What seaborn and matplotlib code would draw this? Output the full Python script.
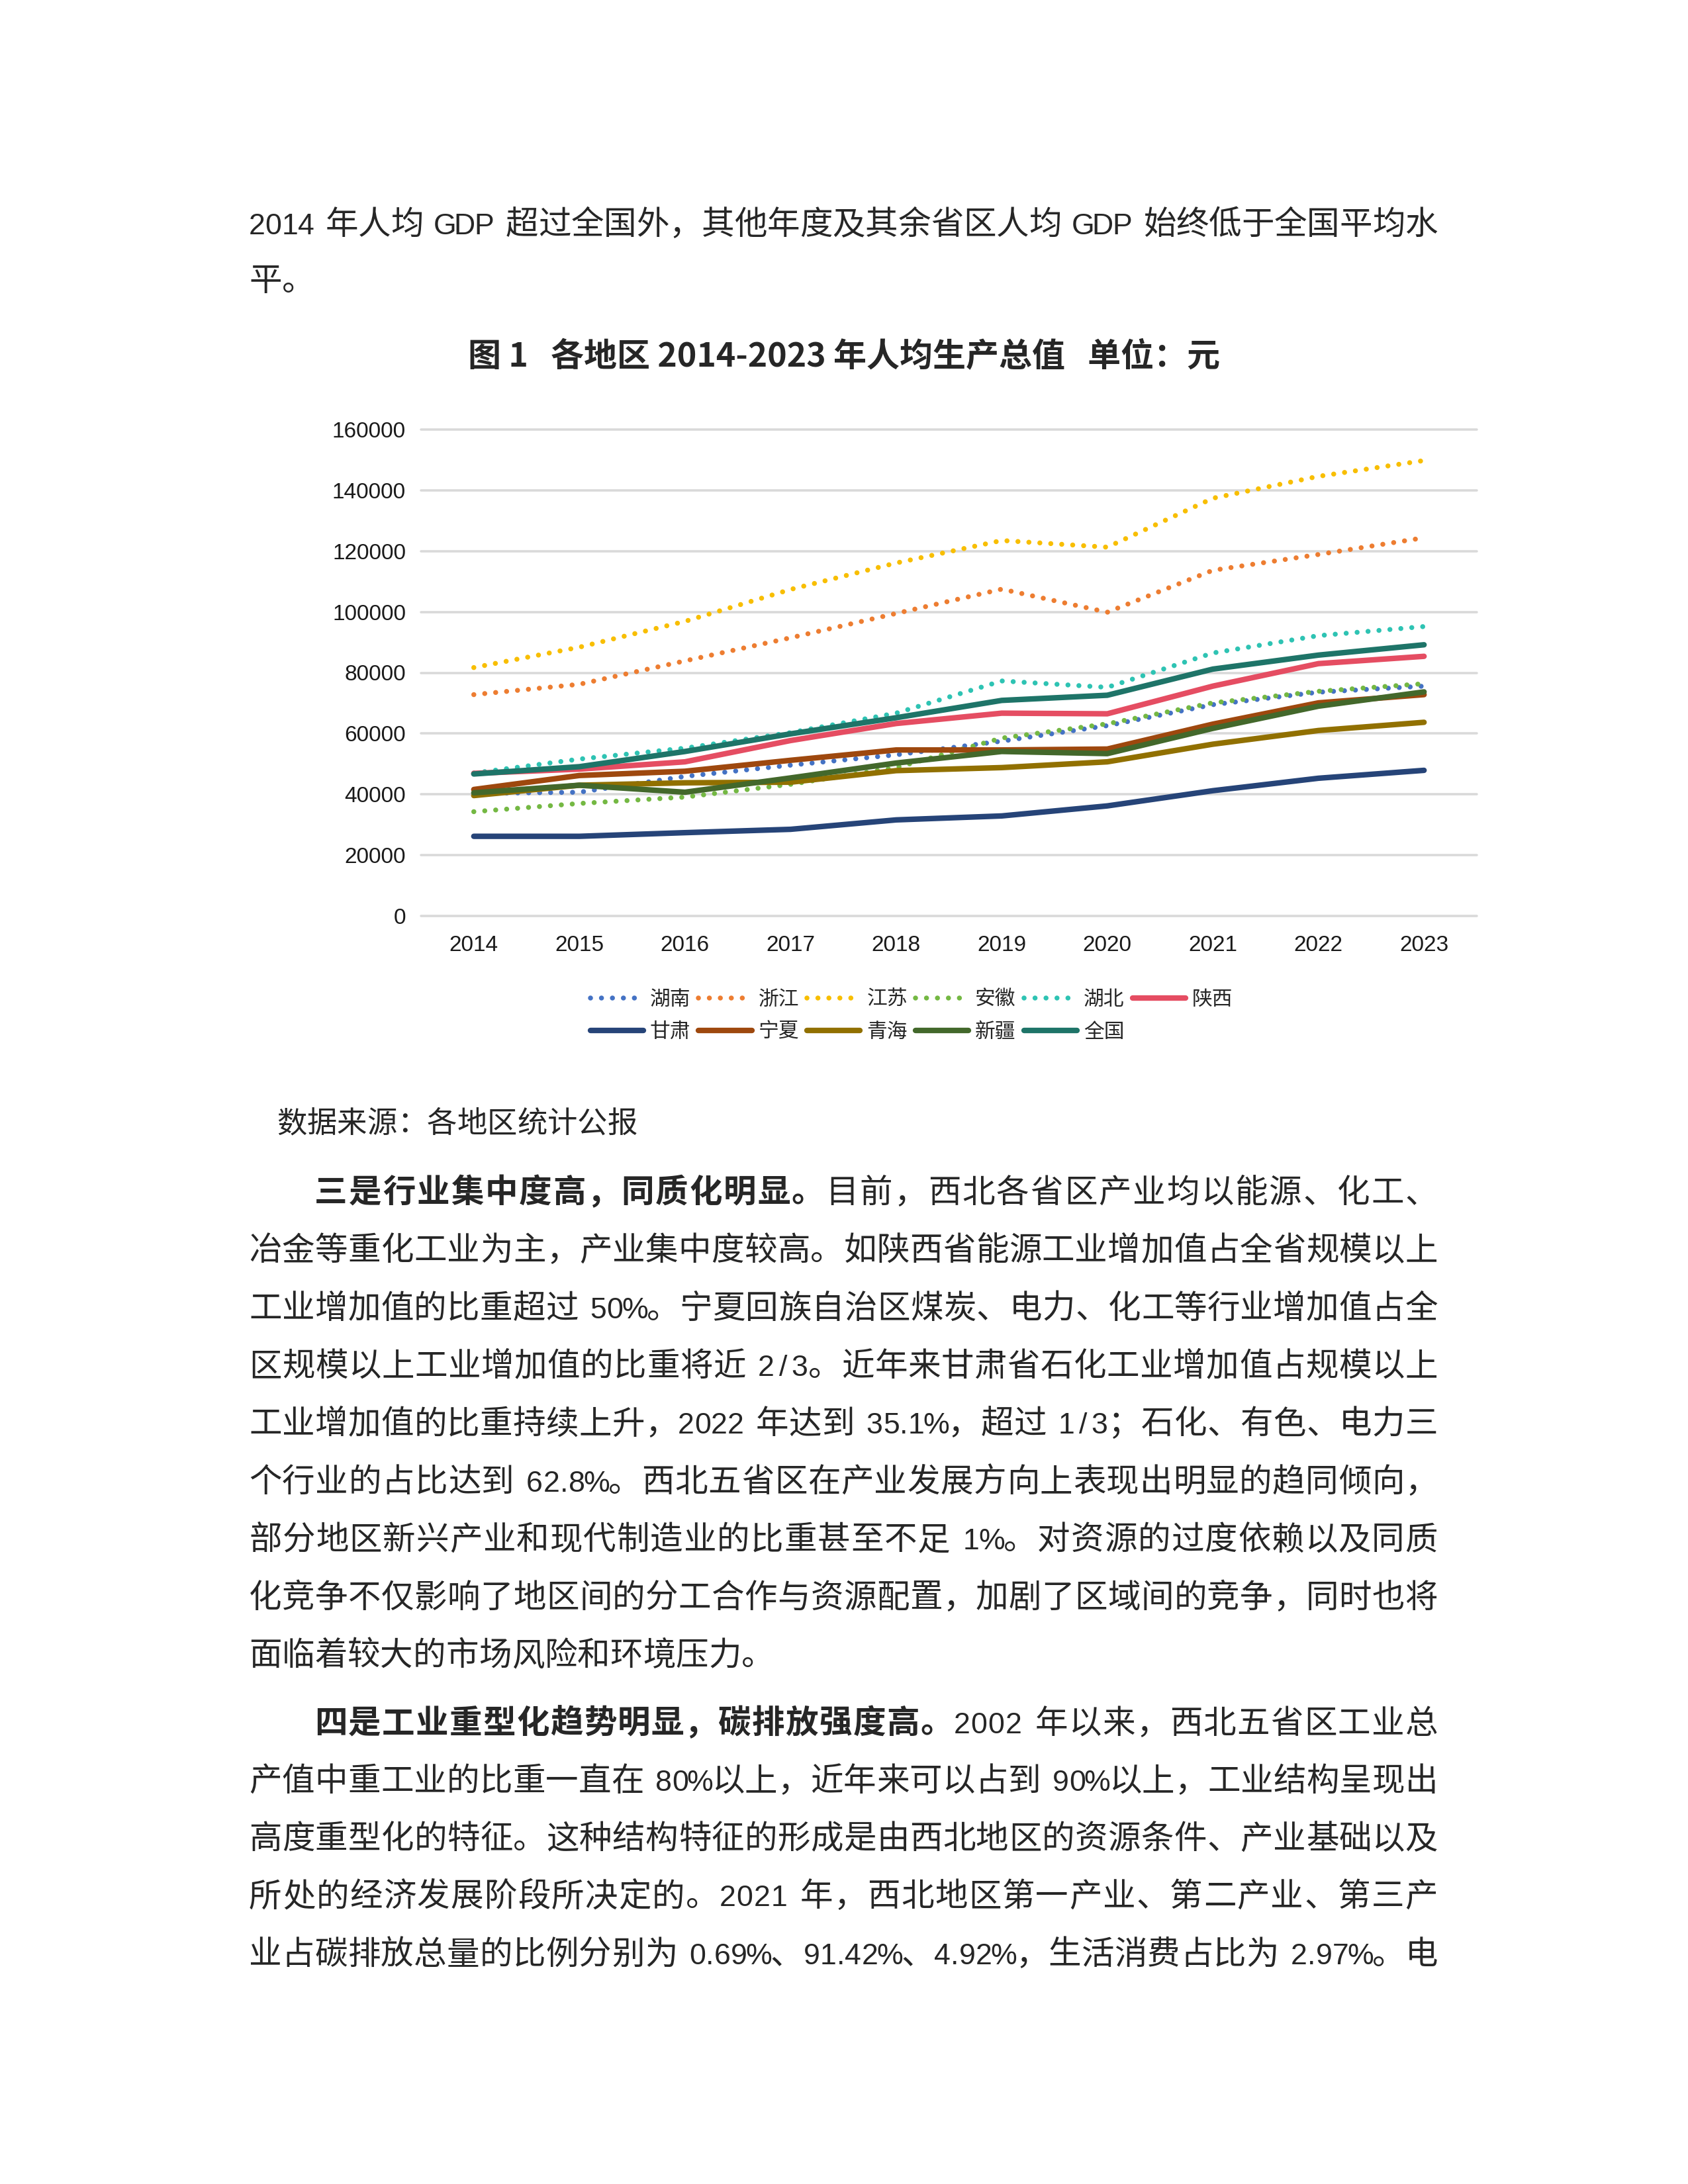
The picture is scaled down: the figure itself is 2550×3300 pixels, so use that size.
import matplotlib
matplotlib.use('Agg')
import matplotlib.pyplot as plt
import seaborn as sns
from matplotlib.font_manager import FontProperties

# data (元 per person)
years = ['2014', '2015', '2016', '2017', '2018', '2019', '2020', '2021', '2022', '2023']
hunan = [40300, 40700, 45900, 49600, 53000, 57500, 62600, 69500, 73600, 75600]
zhejiang = [72800, 76200, 83900, 91500, 99500, 107500, 99900, 113700, 118900, 124400]
jiangsu = [81700, 88400, 96900, 107400, 116100, 123500, 121300, 137400, 144600, 149800]
anhui = [34300, 37000, 39100, 43300, 48800, 58500, 63200, 70100, 73900, 76400]
hubei = [47000, 51600, 55200, 60300, 66700, 77300, 75200, 86500, 92200, 95200]
shaanxi = [46900, 48300, 50700, 57700, 63300, 66700, 66500, 75600, 83000, 85400]
gansu = [26200, 26200, 27400, 28500, 31600, 32900, 36200, 41200, 45300, 47900]
ningxia = [41600, 46200, 47600, 51200, 54600, 54600, 54900, 63100, 70100, 72800]
qinghai = [39600, 43000, 43800, 44000, 47800, 48800, 50700, 56500, 61000, 63700]
xinjiang = [40500, 43000, 40700, 45400, 50300, 54100, 53400, 61700, 69000, 73700]
national = [46700, 49100, 54100, 59900, 65200, 70900, 72600, 81200, 85800, 89200]

names = ['湖南', '浙江', '江苏', '安徽', '湖北', '陕西', '甘肃', '宁夏', '青海', '新疆', '全国']
series = [hunan, zhejiang, jiangsu, anhui, hubei, shaanxi, gansu, ningxia, qinghai, xinjiang, national]
colors = ['#4472C4', '#ED7D31', '#F8BE00', '#74B843', '#2EC3B3', '#E54D62',
          '#264478', '#9E480E', '#917000', '#43682B', '#1E7468']
dotted = [True, True, True, True, True, False, False, False, False, False, False]

# page text
intro_lines = ['2014 年人均 GDP 超过全国外，其他年度及其余省区人均 GDP 始终低于全国平均水',
               '平。']
title = '图 1   各地区 2014-2023 年人均生产总值   单位：元'
source = '数据来源：各地区统计公报'
para3 = ['三是行业集中度高，同质化明显。目前，西北各省区产业均以能源、化工、',
         '冶金等重化工业为主，产业集中度较高。如陕西省能源工业增加值占全省规模以上',
         '工业增加值的比重超过 50%。宁夏回族自治区煤炭、电力、化工等行业增加值占全',
         '区规模以上工业增加值的比重将近 2/3。近年来甘肃省石化工业增加值占规模以上',
         '工业增加值的比重持续上升，2022 年达到 35.1%，超过 1/3；石化、有色、电力三',
         '个行业的占比达到 62.8%。西北五省区在产业发展方向上表现出明显的趋同倾向，',
         '部分地区新兴产业和现代制造业的比重甚至不足 1%。对资源的过度依赖以及同质',
         '化竞争不仅影响了地区间的分工合作与资源配置，加剧了区域间的竞争，同时也将',
         '面临着较大的市场风险和环境压力。']
para3_bold = len('三是行业集中度高，同质化明显。')
para4 = ['四是工业重型化趋势明显，碳排放强度高。2002 年以来，西北五省区工业总',
         '产值中重工业的比重一直在 80%以上，近年来可以占到 90%以上，工业结构呈现出',
         '高度重型化的特征。这种结构特征的形成是由西北地区的资源条件、产业基础以及',
         '所处的经济发展阶段所决定的。2021 年，西北地区第一产业、第二产业、第三产',
         '业占碳排放总量的比例分别为 0.69%、91.42%、4.92%，生活消费占比为 2.97%。电']
para4_bold = len('四是工业重型化趋势明显，碳排放强度高。')

sns.set_style('white')
plt.rcParams['font.family'] = ['Noto Sans CJK SC', 'DejaVu Sans']

W, H = 2550, 3300
fig = plt.figure(figsize=(8.5, 11), dpi=300)


def fx(x):
    return x / W


def fy(y):
    return 1 - y / H


def char_width(c, em):
    if ord(c) >= 0x2E80:
        return em
    if c == ' ':
        return 0.35 * em
    if c in '.,':
        return 0.25 * em
    if c == '%':
        return 0.7 * em
    if c.isupper():
        return 0.6 * em
    return 0.5 * em


def draw_line(text, yc, x0, x1=None, size=11.9, bold_n=0, indent=0):
    # lay out character by character, like a justified Word line
    em = size * 300 / 72
    widths = [char_width(c, em) for c in text]
    left = x0 + indent * em
    extra = 0
    if x1 is not None and len(text) > 1:
        extra = (x1 - left - sum(widths)) / (len(text) - 1)
    base = yc + 0.38 * em
    pos = left
    for i, (c, w) in enumerate(zip(text, widths)):
        if c != ' ':
            wt = 'bold' if i < bold_n else 'normal'
            if ord(c) < 0x2E80:
                fig.text(fx(pos + w / 2), fy(base), c, ha='center', va='baseline',
                         fontsize=size * 0.9, fontweight=wt,
                         family=['Liberation Sans Narrow', 'Liberation Sans'])
            else:
                fig.text(fx(pos + w / 2), fy(base), c, ha='center', va='baseline',
                         fontsize=size, fontweight=wt, family=['Noto Sans CJK SC'])
        pos += w + extra


X0, X1 = 376, 2172
draw_line(intro_lines[0], 335, X0, X1)
draw_line(intro_lines[1], 420, X0)
fig.text(0.5, fy(535 + 0.38 * 50), title, ha='center', va='baseline', fontsize=12,
         fontweight='bold', family=['Noto Sans CJK SC', 'DejaVu Sans'])
draw_line(source, 1694, 418, size=10.9)
for i, line in enumerate(para3):
    last = i == len(para3) - 1
    draw_line(line, 1798 + 87.4 * i, X0, None if last else X1,
              bold_n=para3_bold if i == 0 else 0, indent=2 if i == 0 else 0)
for i, line in enumerate(para4):
    draw_line(line, 2600 + 87.2 * i, X0, X1,
              bold_n=para4_bold if i == 0 else 0, indent=2 if i == 0 else 0)

# chart
ax = fig.add_axes([fx(636), fy(1384), fx(2231) - fx(636), fy(649) - fy(1384)])
pos = list(range(len(years)))
for name, vals, color, dot in zip(names, series, colors, dotted):
    if dot:
        sns.lineplot(x=pos, y=vals, ax=ax, color=color, lw=1.8, label=name,
                     linestyle=(0, (0.01, 2.2)), dash_capstyle='round')
    else:
        sns.lineplot(x=pos, y=vals, ax=ax, color=color, lw=2.0, label=name,
                     solid_capstyle='round')

if ax.get_legend() is not None:
    ax.get_legend().remove()
ax.set_xlim(-0.5, len(years) - 0.5)
ax.set_ylim(0, 160000)
ax.set_yticks(range(0, 160001, 20000))
ax.set_xticks(pos)
ax.set_xticklabels(years)
ax.set_xlabel('')
ax.set_ylabel('')
sns.despine(ax=ax, left=True, bottom=True)
ax.yaxis.grid(True, color='#D9D9D9', lw=0.85)
ax.xaxis.grid(False)
ax.set_axisbelow(True)
for gl in ax.get_ygridlines():
    gl.set_clip_on(False)
ax.tick_params(axis='both', length=0, labelsize=8.0, colors='#1A1A1A')
ax.tick_params(axis='y', pad=5.5)
ax.tick_params(axis='x', pad=7.0)
for lab in ax.get_xticklabels() + ax.get_yticklabels():
    lab.set_family('Liberation Sans')

handles, labels = ax.get_legend_handles_labels()
order = [0, 6, 1, 7, 2, 8, 3, 9, 4, 10, 5]
fig.legend([handles[i] for i in order], [labels[i] for i in order],
           loc='center', bbox_to_anchor=(fx(1377), fy(1535)), ncol=6, frameon=False,
           prop=FontProperties(family='Noto Sans CJK SC', size=7.4),
           handlelength=2.6, handletextpad=0.32, columnspacing=0.4,
           labelspacing=0.58, borderpad=0)

fig.savefig('out.png', dpi=300, facecolor='white')
